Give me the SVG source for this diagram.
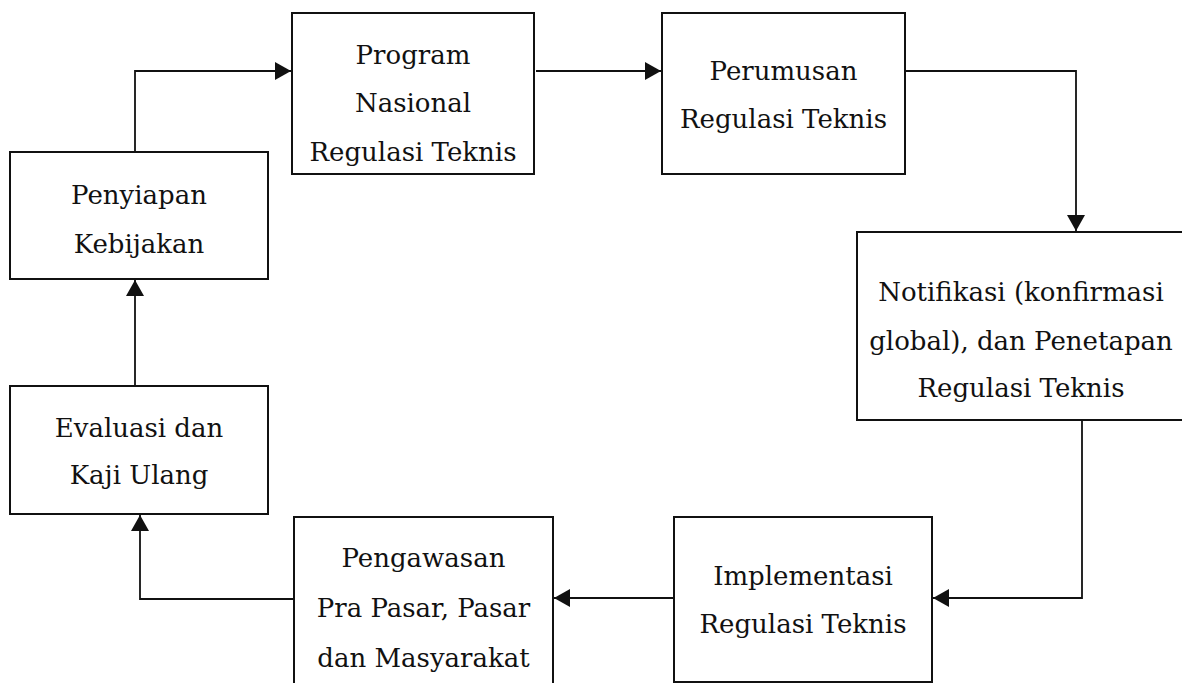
<svg xmlns="http://www.w3.org/2000/svg" width="1182" height="683" viewBox="0 0 1182 683">
<style>
.box{fill:#fff;stroke:#111;stroke-width:2}
.lbl{font-family:"DejaVu Serif","Liberation Serif",serif;font-size:26px;fill:#111;text-anchor:middle}
.conn{fill:none;stroke:#111;stroke-width:1.8}
</style>
<defs>
<marker id="ah" markerUnits="userSpaceOnUse" markerWidth="17" markerHeight="18" refX="16" refY="9" orient="auto">
<path d="M0,0 L16,9 L0,18 z" fill="#111"/>
</marker>
</defs>
<rect width="1182" height="683" fill="#fff"/>
<g id="connectors">
<path class="conn" d="M135,152 V71 H291" marker-end="url(#ah)"/>
<path class="conn" d="M536,71 H661" marker-end="url(#ah)"/>
<path class="conn" d="M905,71 H1076 V231" marker-end="url(#ah)"/>
<path class="conn" d="M1082,420 V598 H933" marker-end="url(#ah)"/>
<path class="conn" d="M674,598 H554" marker-end="url(#ah)"/>
<path class="conn" d="M294,599 H140 V515" marker-end="url(#ah)"/>
<path class="conn" d="M135,386 V280" marker-end="url(#ah)"/>
</g>
<g id="penyiapan">
<rect class="box" x="10" y="152" width="258" height="127"/>
<text class="lbl" x="139" y="204">Penyiapan</text>
<text class="lbl" x="139" y="253">Kebijakan</text>
</g>
<g id="program">
<rect class="box" x="292" y="13" width="242" height="161"/>
<text class="lbl" x="413" y="64">Program</text>
<text class="lbl" x="413" y="112">Nasional</text>
<text class="lbl" x="413" y="161">Regulasi Teknis</text>
</g>
<g id="perumusan">
<rect class="box" x="662" y="13" width="243" height="161"/>
<text class="lbl" x="783.5" y="80">Perumusan</text>
<text class="lbl" x="783.5" y="128">Regulasi Teknis</text>
</g>
<g id="notifikasi">
<rect class="box" x="857" y="232" width="330" height="188"/>
<text class="lbl" x="1021" y="301">Notifikasi (konfirmasi</text>
<text class="lbl" x="1021" y="350">global), dan Penetapan</text>
<text class="lbl" x="1021" y="397">Regulasi Teknis</text>
</g>
<g id="implementasi">
<rect class="box" x="674" y="517" width="258" height="165"/>
<text class="lbl" x="803" y="585">Implementasi</text>
<text class="lbl" x="803" y="633">Regulasi Teknis</text>
</g>
<g id="pengawasan">
<rect class="box" x="294" y="517" width="259" height="180"/>
<text class="lbl" x="423.5" y="567">Pengawasan</text>
<text class="lbl" x="423.5" y="617">Pra Pasar, Pasar</text>
<text class="lbl" x="423.5" y="667">dan Masyarakat</text>
</g>
<g id="evaluasi">
<rect class="box" x="10" y="386" width="258" height="128"/>
<text class="lbl" x="139" y="437">Evaluasi dan</text>
<text class="lbl" x="139" y="484">Kaji Ulang</text>
</g>
</svg>
